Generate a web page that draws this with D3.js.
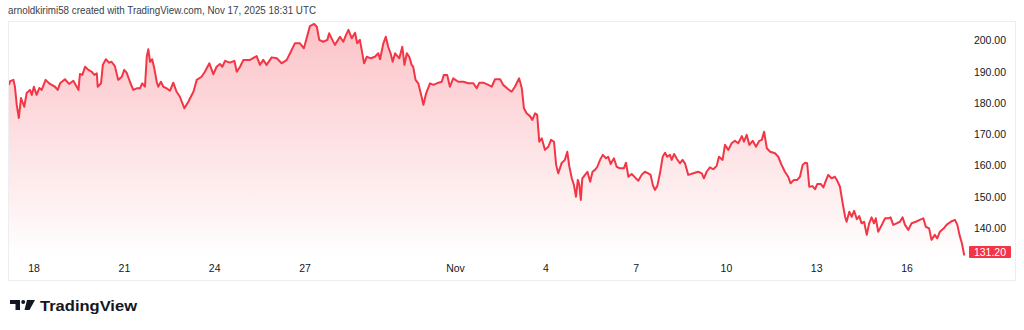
<!DOCTYPE html>
<html>
<head>
<meta charset="utf-8">
<script src="https://cdn.jsdelivr.net/npm/d3@7.9.0/dist/d3.min.js"></script>
<style>
  html, body { margin: 0; padding: 0; background: #fff; }
  svg { display: block; font-family: "Liberation Sans", Arial, sans-serif; }
</style>
</head>
<body>
<svg id="chart" width="1024" height="330"></svg>
<script>
// time in days since 2025-10-17 00:00 UTC, price in USD
const days = [
  0.18,0.22,0.33,0.38,0.44,0.51,0.58,0.69,0.77,0.88,0.94,1.01,1.10,1.19,1.27,1.40,1.54,1.71,1.80,1.88,
  2.04,2.18,2.32,2.49,2.54,2.62,2.71,2.82,2.93,3.02,3.10,3.13,3.24,3.30,3.40,3.51,3.59,3.70,3.81,3.93,
  4.01,4.09,4.20,4.31,4.43,4.53,4.61,4.70,4.76,4.81,4.87,4.94,5.01,5.09,5.14,5.23,5.31,5.42,5.53,5.64,
  5.75,5.86,6.01,6.14,6.31,6.42,6.58,6.69,6.84,6.97,7.08,7.19,7.27,7.36,7.52,7.67,7.75,7.86,7.97,8.19,
  8.41,8.52,8.63,8.74,8.91,9.08,9.24,9.41,9.52,9.68,9.85,9.98,10.07,10.18,10.32,10.41,10.49,10.62,10.76,10.82,
  10.90,11.01,11.18,11.29,11.38,11.46,11.57,11.68,11.75,11.84,11.98,12.07,12.20,12.34,12.45,12.51,12.62,12.70,12.78,12.86,
  12.93,13.01,13.15,13.25,13.32,13.40,13.48,13.56,13.61,13.69,13.78,13.89,13.95,14.04,14.17,14.28,14.45,14.56,14.63,14.74,
  14.83,14.94,15.11,15.28,15.44,15.61,15.72,15.81,15.94,16.11,16.22,16.33,16.50,16.60,16.77,16.88,16.99,17.13,17.22,17.29,
  17.38,17.49,17.57,17.66,17.73,17.80,17.88,17.99,18.10,18.19,18.29,18.36,18.43,18.54,18.65,18.73,18.80,18.88,18.95,19.02,
  19.08,19.13,19.18,19.23,19.32,19.40,19.49,19.57,19.65,19.73,19.82,19.91,20.02,20.09,20.17,20.28,20.37,20.48,20.61,20.68,
  20.76,20.87,20.98,21.09,21.20,21.31,21.42,21.50,21.57,21.64,21.72,21.81,21.90,21.98,22.05,22.14,22.20,22.28,22.38,22.47,
  22.56,22.64,22.75,22.92,23.08,23.20,23.27,23.36,23.47,23.58,23.69,23.77,23.89,23.97,24.08,24.19,24.30,24.41,24.53,24.60,
  24.69,24.78,24.89,25.00,25.11,25.19,25.27,25.36,25.47,25.63,25.74,25.85,25.96,26.07,26.15,26.26,26.37,26.46,26.55,26.63,
  26.70,26.77,26.88,26.96,27.04,27.15,27.24,27.33,27.40,27.51,27.62,27.70,27.79,27.88,27.96,28.01,28.10,28.18,28.26,28.35,
  28.43,28.51,28.59,28.68,28.76,28.84,28.92,28.98,29.06,29.18,29.29,29.40,29.47,29.56,29.67,29.78,29.87,29.95,30.06,30.17,
  30.31,30.44,30.56,30.64,30.75,30.83,30.94,31.02,31.11,31.24,31.33,31.47,31.61,31.69,31.76,31.84,31.92
];
const prices = [
  185.8,187.0,187.4,185.2,179.4,175.2,181.6,178.8,183.2,184.2,182.6,185.2,182.6,184.8,184.2,187.4,186.1,185.2,184.2,186.3,
  187.6,186.1,187.1,184.2,189.3,189.0,191.6,190.6,190.0,189.0,189.5,185.2,186.3,192.2,194.0,192.9,193.2,191.8,187.4,188.4,
  190.6,189.7,186.8,184.2,184.7,184.7,186.3,185.2,194.8,197.2,193.2,194.0,191.1,186.8,185.2,186.8,185.2,184.7,183.9,186.5,
  183.6,182.0,178.3,180.4,183.6,187.4,188.4,190.0,192.7,189.2,191.6,192.5,191.6,193.5,192.9,193.5,190.0,191.6,193.8,193.8,
  195.0,192.2,193.8,192.2,194.6,194.3,192.7,193.8,195.9,199.1,199.1,197.5,200.7,204.6,205.3,204.4,200.2,199.6,200.2,202.3,
  200.7,198.6,201.2,199.6,201.8,203.4,200.7,202.5,199.1,200.2,192.7,194.8,194.3,194.8,195.9,194.0,199.1,201.2,198.0,195.9,
  193.2,195.9,194.3,198.0,192.2,195.9,194.8,192.2,191.6,187.4,186.3,182.0,179.4,183.1,186.3,185.8,186.5,186.8,189.0,189.0,
  185.2,187.9,186.8,186.8,186.3,186.3,184.7,186.5,186.5,185.8,185.2,187.6,187.6,185.8,184.4,183.6,185.2,187.9,184.7,178.3,
  176.7,175.8,174.6,176.7,176.2,167.6,168.7,165.0,166.0,168.2,167.6,160.2,157.5,160.7,161.8,164.4,159.6,155.9,153.8,150.0,
  155.4,153.8,149.0,155.9,157.0,158.0,154.8,158.0,158.6,159.6,161.8,163.4,162.3,162.8,160.5,162.3,159.6,159.1,159.1,160.9,
  156.4,157.3,156.2,155.1,157.0,158.0,157.5,157.0,153.8,152.2,153.4,157.5,162.8,164.1,162.8,163.4,161.8,163.7,162.0,160.7,
  161.8,160.7,157.0,157.5,158.0,157.5,155.9,158.0,159.4,158.8,159.8,162.8,161.8,166.6,165.0,167.1,167.9,167.1,169.4,167.6,
  169.8,166.6,167.9,166.0,167.9,168.2,170.8,165.5,164.4,163.9,162.8,160.2,158.0,156.4,154.3,155.4,155.4,156.4,160.2,160.9,
  160.7,153.2,153.4,152.4,154.1,154.1,153.0,155.4,157.0,155.9,156.4,155.1,153.2,147.9,143.6,142.0,145.2,143.6,145.5,142.8,
  143.8,141.5,142.0,137.8,141.5,143.4,141.5,143.1,138.8,141.0,143.1,143.1,143.4,141.0,141.5,142.0,143.4,141.0,139.4,141.5,
  142.0,142.6,143.1,140.4,139.9,136.2,137.8,136.7,138.8,139.9,141.0,142.0,142.6,141.0,137.8,135.1,131.2
];
const priceTicks = [140, 150, 160, 170, 180, 190, 200];
const timeTicks = ["2025-10-18", "2025-10-21", "2025-10-24", "2025-10-27", "2025-11-01",
                   "2025-11-04", "2025-11-07", "2025-11-10", "2025-11-13", "2025-11-16"];
const headerText = "arnoldkirimi58 created with TradingView.com, Nov 17, 2025 18:31 UTC";

const RED = "#F23645";
const start = Date.UTC(2025, 9, 17);
const data = days.map((d, i) => ({ t: new Date(start + d * 864e5), v: prices[i] }));

const svg = d3.select("#chart");

// frame
svg.append("rect")
  .attr("x", 8.5).attr("y", 21.5).attr("width", 1007).attr("height", 259)
  .attr("fill", "#fff").attr("stroke", "#eceef2");

const x = d3.scaleUtc()
  .domain([new Date(start), new Date(start + 32 * 864e5)])
  .range([3.5, 3.5 + 32 * 30.1]);
const y = d3.scaleLinear().domain([140, 200]).range([228, 40.5]);
const paneBottom = 258;

const defs = svg.append("defs");
defs.append("clipPath").attr("id", "pane")
  .append("rect").attr("x", 9).attr("y", 22).attr("width", 958).attr("height", paneBottom - 22);
const grad = defs.append("linearGradient").attr("id", "fillGrad")
  .attr("gradientUnits", "userSpaceOnUse")
  .attr("x1", 0).attr("x2", 0).attr("y1", y(d3.max(prices))).attr("y2", paneBottom);
grad.append("stop").attr("offset", 0).attr("stop-color", RED).attr("stop-opacity", 0.3);
grad.append("stop").attr("offset", 1).attr("stop-color", RED).attr("stop-opacity", 0.0);

const pane = svg.append("g").attr("clip-path", "url(#pane)");

pane.append("path").datum(data)
  .attr("fill", "url(#fillGrad)")
  .attr("d", d3.area().x(d => x(d.t)).y0(paneBottom).y1(d => y(d.v)));

pane.append("path").datum(data)
  .attr("fill", "none")
  .attr("stroke", RED)
  .attr("stroke-width", 2)
  .attr("stroke-linejoin", "round")
  .attr("d", d3.line().x(d => x(d.t)).y(d => y(d.v)));

// price axis
const yAxis = svg.append("g")
  .attr("transform", "translate(1006,0)")
  .call(d3.axisRight(y).tickValues(priceTicks).tickFormat(d3.format(".2f")).tickSize(0));
yAxis.select(".domain").remove();
yAxis.selectAll("text")
  .attr("x", 0).attr("text-anchor", "end")
  .attr("fill", "#131722").attr("font-size", 10.5).attr("font-family", "Liberation Sans, Arial, sans-serif");

// last price label
const last = data[data.length - 1];
const lastY = Math.min(y(last.v), 251.5);
svg.append("rect")
  .attr("x", 969).attr("y", lastY - 5.5).attr("width", 42).attr("height", 12)
  .attr("fill", RED).attr("rx", 1);
svg.append("text")
  .attr("x", 1006).attr("y", lastY + 0.5).attr("dy", "0.35em")
  .attr("text-anchor", "end").attr("fill", "#fff").attr("font-size", 10.5)
  .text(d3.format(".2f")(last.v));

// time axis
const fmtDay = d3.utcFormat("%-d");
const xAxis = svg.append("g")
  .attr("transform", `translate(0,${paneBottom})`)
  .call(d3.axisBottom(x)
    .tickValues(timeTicks.map(s => new Date(s + "T00:00:00Z")))
    .tickFormat(d => d.getUTCDate() === 1 ? d3.utcFormat("%b")(d) : fmtDay(d))
    .tickSize(0).tickPadding(7));
xAxis.select(".domain").remove();
xAxis.selectAll("text")
  .attr("fill", "#131722").attr("font-size", 10.5).attr("font-family", "Liberation Sans, Arial, sans-serif");

// header
svg.append("text")
  .attr("x", 8).attr("y", 14)
  .attr("fill", "#3a3e48").attr("font-size", 10.5)
  .attr("textLength", 308).attr("lengthAdjust", "spacingAndGlyphs")
  .text(headerText);

// logo
const logo = svg.append("g").attr("transform", "translate(10,299)").attr("fill", "#131722");
logo.append("path").attr("d", "M0,1 H10 V11 H5.5 V5 H0 Z");
logo.append("circle").attr("cx", 13.2).attr("cy", 3).attr("r", 2);
logo.append("path").attr("d", "M17,1 H25 L19.5,11 H14.5 Z");
svg.append("text")
  .attr("x", 40).attr("y", 311)
  .attr("fill", "#131722").attr("font-size", 15.5).attr("font-weight", "bold")
  .attr("textLength", 97).attr("lengthAdjust", "spacingAndGlyphs")
  .text("TradingView");
</script>
</body>
</html>
